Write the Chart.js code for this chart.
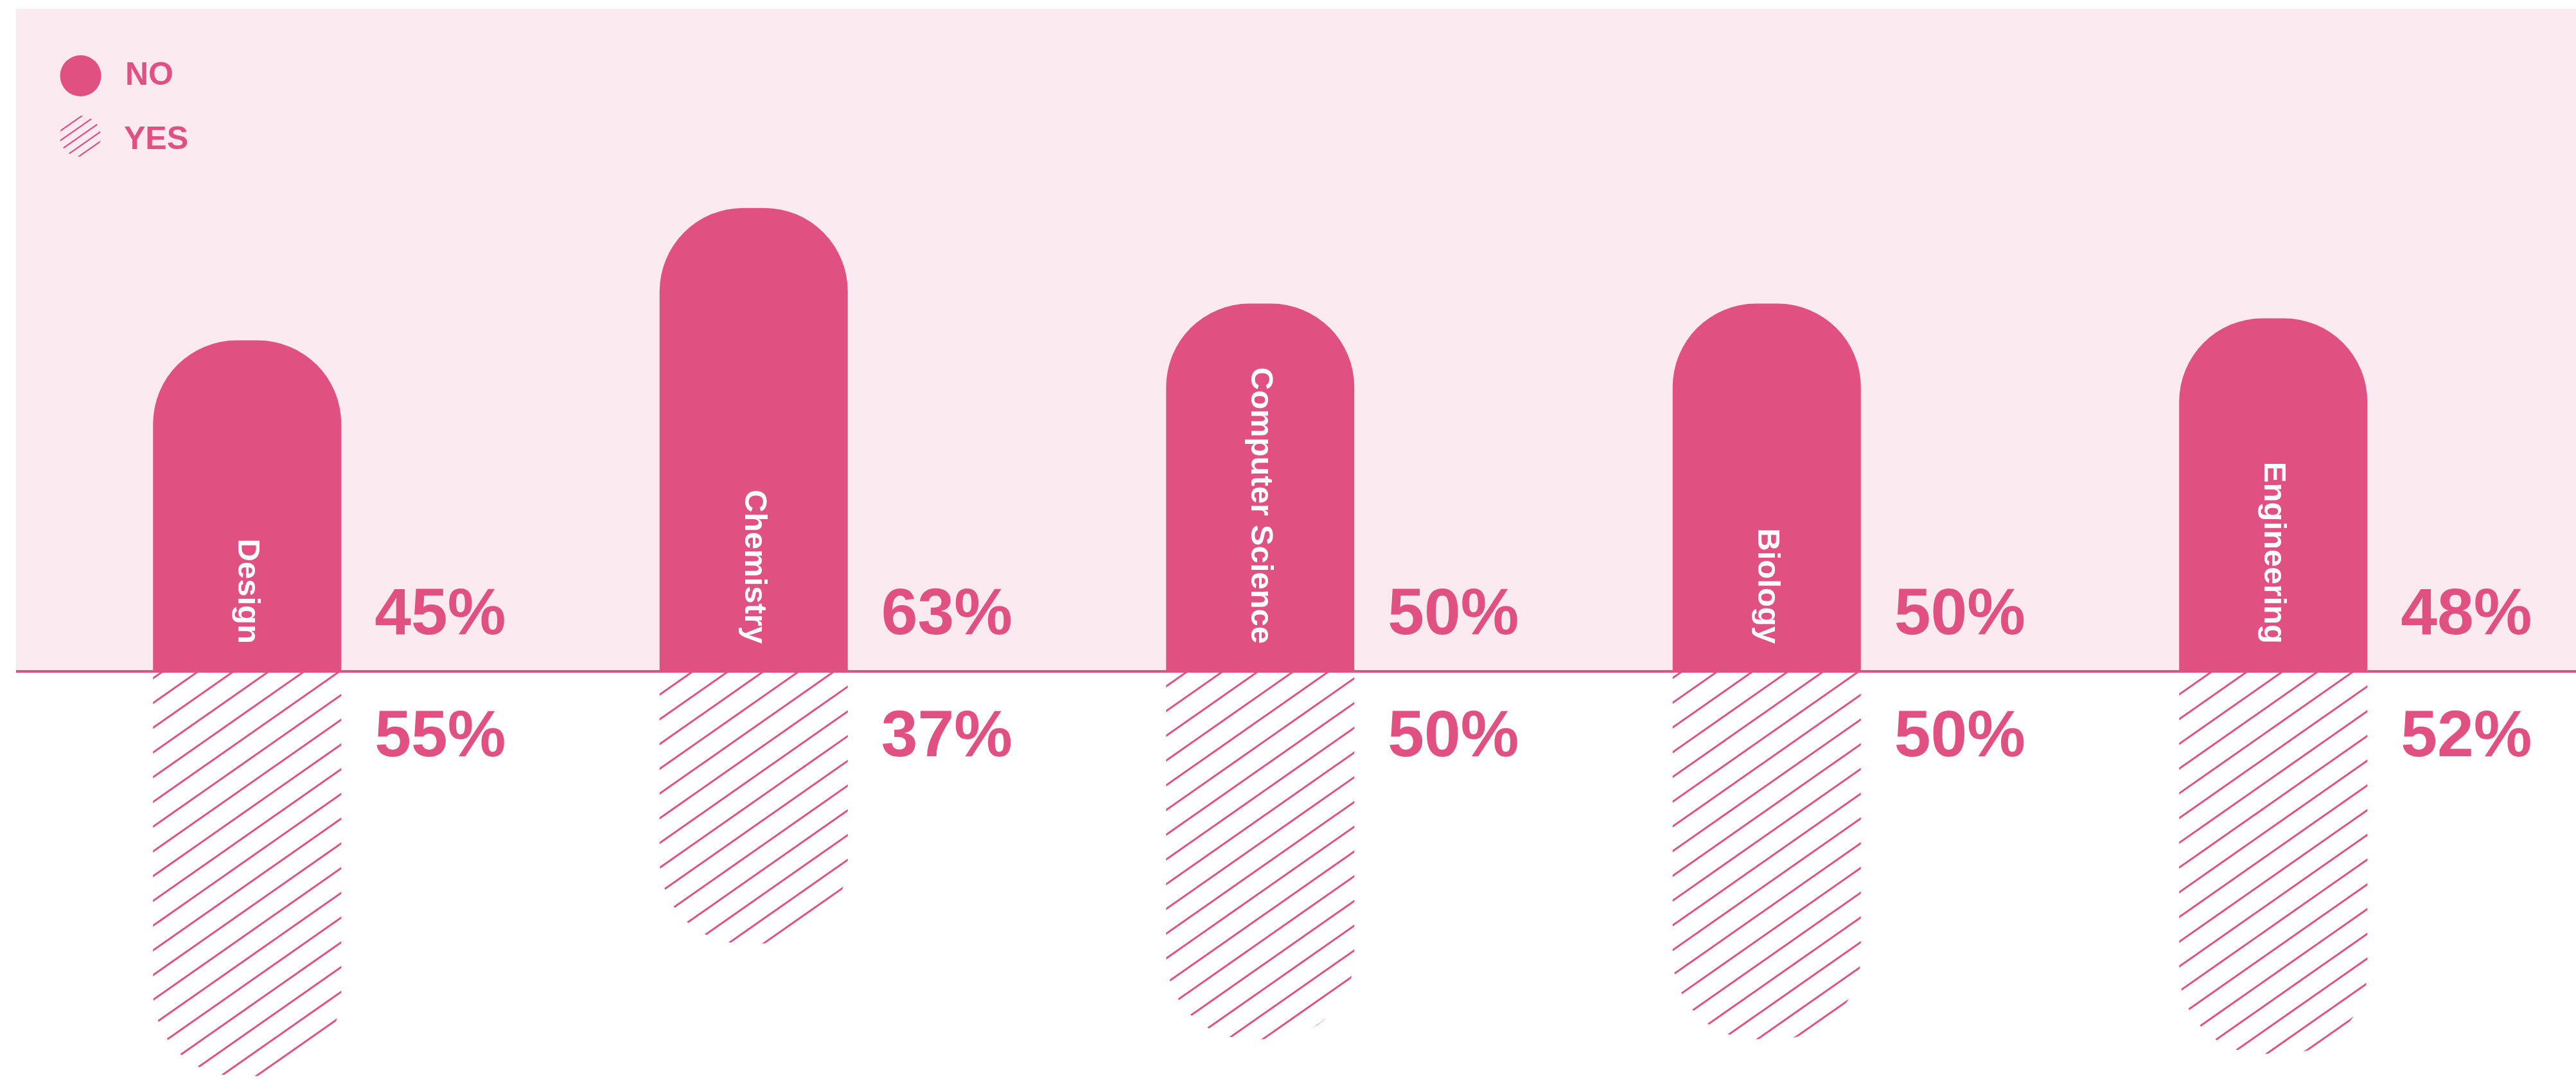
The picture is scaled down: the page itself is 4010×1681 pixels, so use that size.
<!DOCTYPE html>
<html>
<head>
<meta charset="utf-8">
<script src="https://cdn.jsdelivr.net/npm/chart.js@4.4.1/dist/chart.umd.min.js"></script>
<style>
  html, body { margin: 0; padding: 0; background: #ffffff; overflow: hidden; }
  #wrap { position: absolute; left: -10px; top: 0; width: 4020px; height: 1681px; }
</style>
</head>
<body>
<div id="wrap"><canvas id="chart" width="4020" height="1681"></canvas></div>
<script>
// Survey answers per subject (percent)
const subjects = ['Design', 'Chemistry', 'Computer Science', 'Biology', 'Engineering'];
const noShare = [45, 63, 50, 50, 48];
const yesShare = [55, 37, 50, 50, 52];
const seriesNames = ['NO', 'YES'];

const PINK = '#e05080';
const PANEL = '#fbebf1';
const FONT = '"Liberation Sans", Arial, Helvetica, sans-serif';

// Diagonal hatch used as fill for the YES bars
function makeHatch(ctx) {
  const tile = document.createElement('canvas');
  tile.width = 110;
  tile.height = 77;
  const t = tile.getContext('2d');
  t.strokeStyle = PINK;
  t.lineWidth = 3;
  for (let k = -1; k <= 5; k++) {
    const y0 = k * 38.5;
    t.beginPath();
    t.moveTo(-10, y0 + 7);
    t.lineTo(120, y0 - 84);
    t.stroke();
  }
  const p = ctx.createPattern(tile, 'repeat');
  p.setTransform(new DOMMatrix([1, 0, 0, 1, 0, 36]));
  return p;
}

// Light panel behind the NO bars, the zero line, labels and legend
const decorPlugin = {
  id: 'decor',
  beforeDatasetsDraw(chart) {
    const { ctx, width } = chart;
    const zero = chart.scales.y.getPixelForValue(0);
    ctx.save();
    ctx.fillStyle = PANEL;
    ctx.fillRect(35, 14, width - 35, zero - 14);
    ctx.restore();
  },
  afterDatasetsDraw(chart) {
    const { ctx, width } = chart;
    const zero = chart.scales.y.getPixelForValue(0);
    const noMeta = chart.getDatasetMeta(0);
    const yesMeta = chart.getDatasetMeta(1);

    ctx.save();
    ctx.fillStyle = PINK;
    ctx.fillRect(35, zero - 2, width - 35, 4);

    // percentage labels beside each bar
    ctx.font = 'bold 102px ' + FONT;
    ctx.textAlign = 'left';
    ctx.textBaseline = 'alphabetic';
    noMeta.data.forEach((bar, i) => {
      const x = bar.x + bar.width / 2 + 52;
      ctx.fillText(noShare[i] + '%', x, bar.base - 58);
      const yb = yesMeta.data[i];
      ctx.fillText(yesShare[i] + '%', x, yb.base + 132);
    });

    // subject names inside the NO bars, reading downwards
    ctx.fillStyle = '#ffffff';
    ctx.font = 'bold 49px ' + FONT;
    ctx.textAlign = 'right';
    ctx.textBaseline = 'middle';
    noMeta.data.forEach((bar, i) => {
      ctx.save();
      ctx.translate(bar.x, bar.base - 43);
      ctx.rotate(Math.PI / 2);
      ctx.fillText(subjects[i], 0, 0);
      ctx.restore();
    });

    // legend
    ctx.fillStyle = PINK;
    ctx.beginPath();
    ctx.arc(135.5, 118, 32, 0, Math.PI * 2);
    ctx.fill();

    ctx.save();
    ctx.beginPath();
    ctx.arc(135, 212, 32, 0, Math.PI * 2);
    ctx.clip();
    ctx.strokeStyle = PINK;
    ctx.lineWidth = 2.2;
    for (let k = -6; k <= 6; k++) {
      const c = 212 + k * 15;
      ctx.beginPath();
      ctx.moveTo(95, c + 28);
      ctx.lineTo(175, c - 28);
      ctx.stroke();
    }
    ctx.restore();

    ctx.font = 'bold 50px ' + FONT;
    ctx.textAlign = 'left';
    ctx.textBaseline = 'middle';
    ctx.fillText(seriesNames[0], 205, 118);
    ctx.fillText(seriesNames[1], 203, 218);
    ctx.restore();
  }
};

const canvas = document.getElementById('chart');
const hatch = makeHatch(canvas.getContext('2d'));

new Chart(canvas, {
  type: 'bar',
  data: {
    labels: subjects,
    datasets: [
      {
        label: seriesNames[0],
        data: noShare,
        backgroundColor: PINK,
        borderWidth: 0,
        borderRadius: 130
      },
      {
        label: seriesNames[1],
        data: yesShare.map(v => -v),
        backgroundColor: hatch,
        borderWidth: 0,
        borderRadius: 130
      }
    ]
  },
  options: {
    responsive: false,
    animation: false,
    events: [],
    layout: { padding: { left: 0.5, right: 77, top: 0, bottom: 0 } },
    datasets: { bar: { categoryPercentage: 1, barPercentage: 0.3716 } },
    plugins: {
      legend: { display: false },
      tooltip: { enabled: false }
    },
    scales: {
      x: { display: false, stacked: true, grid: { display: false } },
      y: { display: false, stacked: true, min: -55.55, max: 91.27, grid: { display: false } }
    }
  },
  plugins: [decorPlugin]
});
</script>
</body>
</html>
